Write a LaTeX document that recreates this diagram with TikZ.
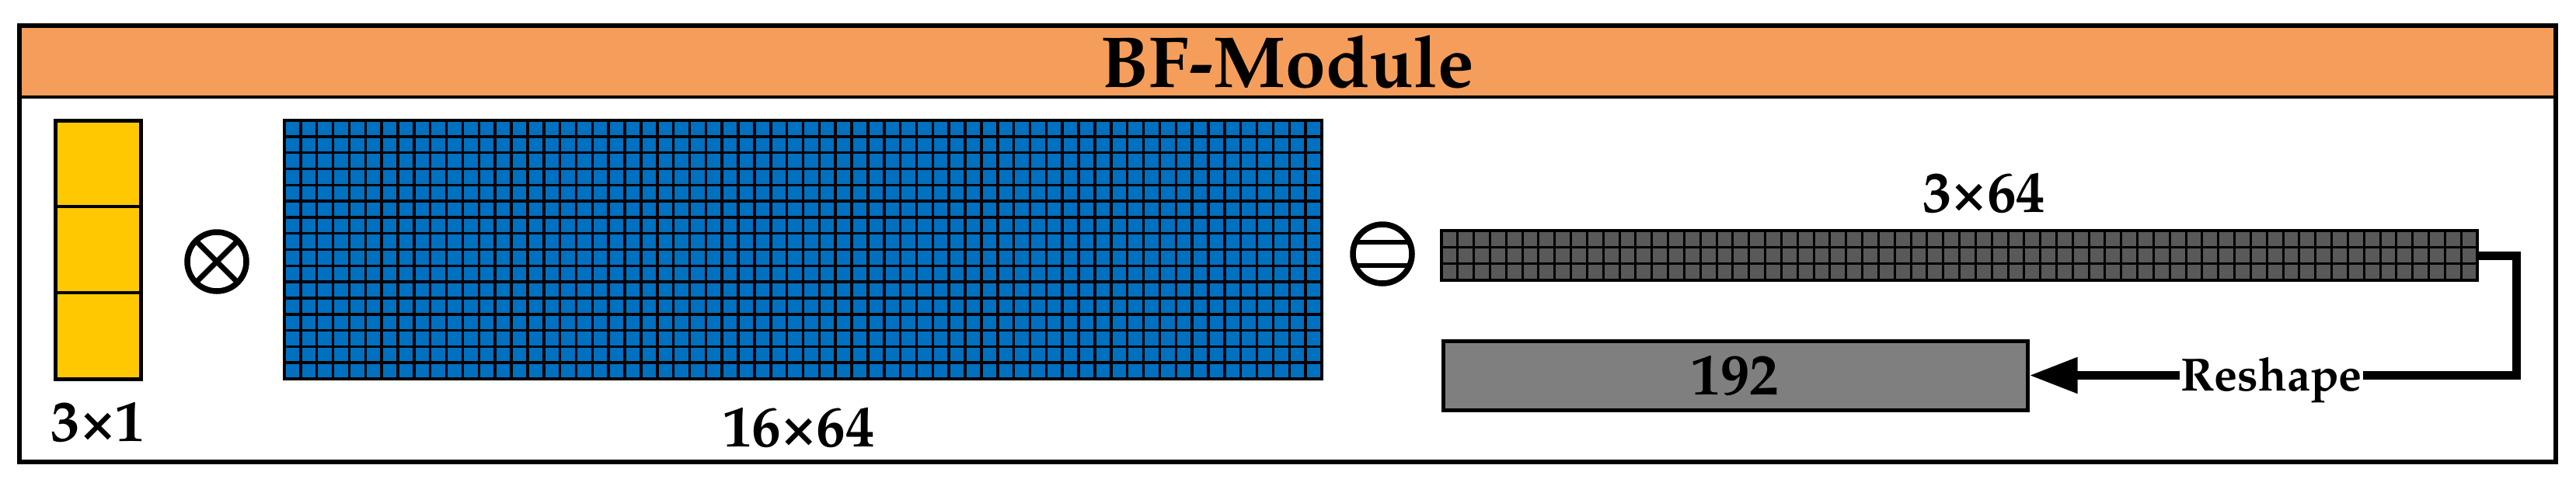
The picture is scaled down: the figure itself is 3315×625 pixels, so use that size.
\documentclass[tikz,border=0pt]{standalone}
\usepackage[T1]{fontenc}
\usepackage{textcomp}
\usepackage{mathpazo}
\usetikzlibrary{arrows.meta}
\definecolor{barorange}{RGB}{245,158,91}
\definecolor{vecyellow}{RGB}{255,200,0}
\definecolor{matblue}{RGB}{0,112,192}
\definecolor{featgray}{RGB}{89,89,89}
\definecolor{boxgray}{RGB}{127,127,127}
\tikzset{
  cellline/.style={line width=3.5pt, black},
  lbl/.style={font=\fontsize{75}{80}\selectfont\bfseries, inner sep=0pt, anchor=base},
  opcircle/.style={circle, draw, line width=7.5pt, minimum size=76pt, inner sep=0pt},
  opline/.style={line width=7pt},
  conn/.style={line width=11pt, black},
  blockbox/.style={draw, inner sep=0pt},
}
\begin{document}
\begin{tikzpicture}[x=1pt,y=-1pt]
\useasboundingbox (0,0) rectangle (3315,625);
% frame and title bar
\fill[barorange] (25,33) rectangle (3289,125);
\draw[line width=4pt] (25,125) -- (3289,125);
\draw[line width=5.5pt] (25,33) rectangle (3289,595);
\node[lbl, font=\fontsize{93}{100}\selectfont\bfseries] (title) at (1657,112) {BF-Module};

% yellow 3x1 vector
\node[blockbox, fill=vecyellow, line width=5pt, minimum width=110pt, minimum height=333pt] (vec) at (126,321.5) {};
\draw[line width=4.5pt] (71,266) -- (181,266);
\draw[line width=4.5pt] (71,377) -- (181,377);
\node[lbl] (l31) at (126,568) {3\texttimes1};

% multiply operator
\node[opcircle] (mul) at (279,337) {};
\draw[opline] ([shift={(-27,-27)}]mul.center) -- ([shift={(27,27)}]mul.center);
\draw[opline] ([shift={(-27,27)}]mul.center) -- ([shift={(27,-27)}]mul.center);

% blue 16x64 matrix
\node[blockbox, fill=matblue, line width=4pt, minimum width=1335pt, minimum height=333pt] (mat) at (1033.5,321.5) {};
\foreach \i in {1,...,63} \draw[cellline] ({366+\i*20.859},155) -- ++(0,333);
\foreach \j in {1,...,15} \draw[cellline] (366,{155+\j*20.8125}) -- ++(1335,0);
\node[lbl] (l1664) at (1028,575) {16\texttimes64};

% minus operator
\node[opcircle] (sub) at (1779,327) {};
\draw[opline, line width=6pt] ([shift={(-35,-15)}]sub.center) -- ([shift={(35,-15)}]sub.center);
\draw[opline, line width=6pt] ([shift={(-35,15)}]sub.center) -- ([shift={(35,15)}]sub.center);

% gray 3x64 feature
\node[blockbox, fill=featgray, line width=4pt, minimum width=1333pt, minimum height=64pt] (feat) at (2521.5,329) {};
\foreach \i in {1,...,63} \draw[cellline, line width=3pt] ({1855+\i*20.828},297) -- ++(0,64);
\foreach \j in {1,2} \draw[cellline, line width=3pt] (1855,{297+\j*21.333}) -- ++(1333,0);
\node[lbl] (l364) at (2553,273) {3\texttimes64};

% flattened 192 vector
\node[blockbox, fill=boxgray, line width=5pt, minimum width=752pt, minimum height=89pt, font=\fontsize{75}{80}\selectfont\bfseries] (flat) at (2233,483.5) {192};

% reshape connector
\coordinate (bend) at (3238,329);
\draw[conn, -{Triangle[length=62pt,width=44pt]}] (feat.east) -- (bend) |- (flat.east);
\node[fill=white, inner sep=1.5pt, anchor=base, font=\fontsize{60}{64}\selectfont\bfseries] (reshape) at (2923,503) {Reshape};
\end{tikzpicture}
\end{document}
